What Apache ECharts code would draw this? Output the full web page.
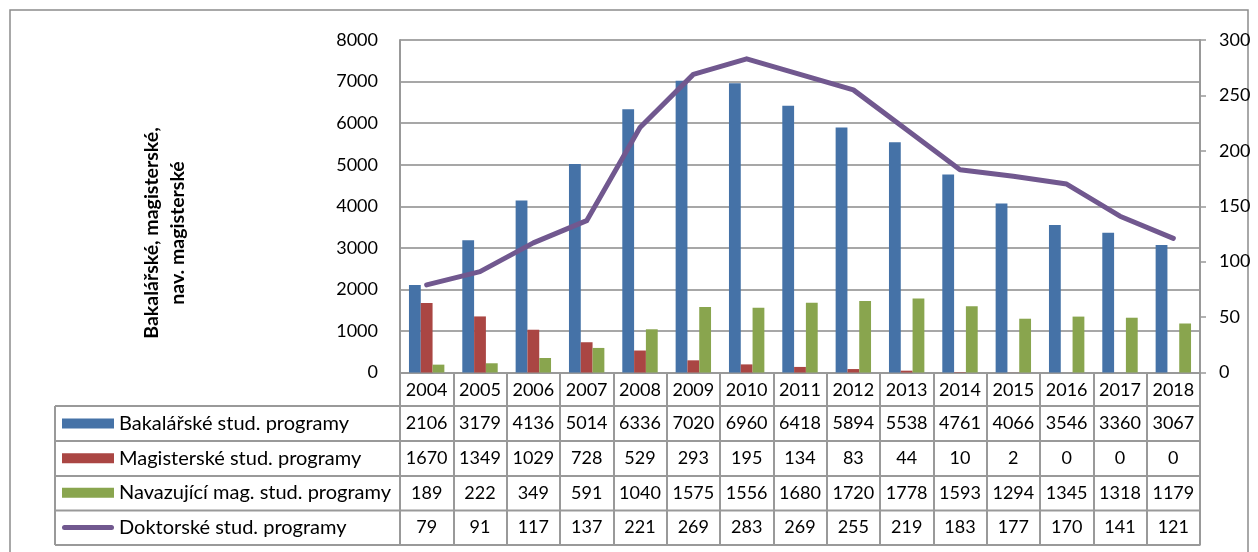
<!DOCTYPE html>
<html>
<head>
<meta charset="utf-8">
<script src="https://cdn.jsdelivr.net/npm/echarts@6/dist/echarts.min.js"></script>
<style>
html,body{margin:0;padding:0;background:#fff;}
#chart{width:1258px;height:552px;}
</style>
</head>
<body>
<div id="chart"></div>
<script>
const years = ['2004','2005','2006','2007','2008','2009','2010','2011','2012','2013','2014','2015','2016','2017','2018'];
const bakalarske = [2106,3179,4136,5014,6336,7020,6960,6418,5894,5538,4761,4066,3546,3360,3067];
const magisterske = [1670,1349,1029,728,529,293,195,134,83,44,10,2,0,0,0];
const navazujici = [189,222,349,591,1040,1575,1556,1680,1720,1778,1593,1294,1345,1318,1179];
const doktorske = [79,91,117,137,221,269,283,269,255,219,183,177,170,141,121];
const seriesNames = ['Bakalářské stud. programy','Magisterské stud. programy','Navazující mag. stud. programy','Doktorské stud. programy'];
const yTitle = 'Bakalářské, magisterské,\nnav. magisterské';

const FONT = 'Lato, "Open Sans", sans-serif';
const GRID = {left:400, right:58, top:40, bottom:179.5};
const axisY = 552 - GRID.bottom;
const rightX = 1258 - GRID.right;
const rowCenters = [423.5, 458.5, 493, 527.5];
const rowLines = [406, 441, 476, 510.5, 545];
const lineCol = '#999999';

const tableRows = [bakalarske, magisterske, navazujici, doktorske];

const xAxes = [{
  type:'category', data:years, gridIndex:0, position:'bottom',
  axisLine:{show:true, lineStyle:{color:lineCol, width:2}},
  axisTick:{show:true, length:173, lineStyle:{color:lineCol, width:2}},
  axisLabel:{show:true, interval:0, margin:17.5, verticalAlign:'middle', fontSize:18, color:'#000', fontFamily:FONT}
}];
tableRows.forEach((arr, k) => {
  xAxes.push({
    type:'category', data:years, gridIndex:0, position:'bottom',
    axisLine:{show:false}, axisTick:{show:false}, splitLine:{show:false},
    axisLabel:{show:true, interval:0, margin:rowCenters[k]-axisY, verticalAlign:'middle', fontSize:18, color:'#000', fontFamily:FONT,
      formatter:(v, i) => String(arr[i])}
  });
});

const graphics = [
  {type:'rect', shape:{x:10, y:10, width:1238, height:560}, style:{fill:'none', stroke:'#8c8c8c', lineWidth:1.5}, silent:true},
  {type:'text', x:165, y:233, rotation:Math.PI/2, style:{text:yTitle, fontSize:19.5, fontWeight:'bold', fontFamily:FONT, fill:'#000', align:'center', verticalAlign:'middle', lineHeight:26}, silent:true},
  {type:'line', shape:{x1:55, y1:rowLines[0], x2:55, y2:rowLines[4]}, style:{stroke:lineCol, lineWidth:2}, silent:true}
];
rowLines.forEach(y => graphics.push({type:'line', shape:{x1:55, y1:y, x2:rightX, y2:y}, style:{stroke:lineCol, lineWidth:2}, silent:true}));

const lineIcon = 'path://M2.5,0 L49.5,0 A2.5,2.5 0 0 1 49.5,5 L2.5,5 A2.5,2.5 0 0 1 2.5,0 Z';

const option = {
  backgroundColor:'#fff',
  animation:false,
  grid:GRID,
  legend:{
    orient:'vertical', left:62, top:rowCenters[0]-10, itemWidth:52, itemHeight:10, itemGap:14.67,
    padding:0, selectedMode:false, symbolKeepAspect:true,
    textStyle:{fontSize:20, color:'#000', fontFamily:FONT, lineHeight:20},
    data:[
      {name:seriesNames[0], icon:'rect'},
      {name:seriesNames[1], icon:'rect'},
      {name:seriesNames[2], icon:'rect'},
      {name:seriesNames[3], icon:lineIcon, itemStyle:{color:'#71588F'}}
    ]
  },
  xAxis:xAxes,
  yAxis:[{
    type:'value', min:0, max:8000, interval:1000,
    axisLine:{show:true, lineStyle:{color:lineCol, width:2}},
    axisTick:{show:false},
    splitLine:{show:true, lineStyle:{color:'#8a8a8a', width:1.5}},
    axisLabel:{margin:22, fontSize:18, color:'#000', fontFamily:FONT, formatter:v => String(v)}
  },{
    type:'value', min:0, max:300, interval:50, position:'right',
    axisLine:{show:true, lineStyle:{color:lineCol, width:2}},
    axisTick:{show:true, length:6, lineStyle:{color:lineCol, width:1.5}},
    splitLine:{show:false},
    axisLabel:{margin:19, fontSize:18, color:'#000', fontFamily:FONT, formatter:v => String(v)}
  }],
  graphic:graphics,
  series:[
    {name:seriesNames[0], type:'bar', data:bakalarske, xAxisIndex:0, yAxisIndex:0, barWidth:11.8, barGap:'0%', itemStyle:{color:'#4572A7'}},
    {name:seriesNames[1], type:'bar', data:magisterske, xAxisIndex:0, yAxisIndex:0, barWidth:11.8, barGap:'0%', itemStyle:{color:'#AA4643'}},
    {name:seriesNames[2], type:'bar', data:navazujici, xAxisIndex:0, yAxisIndex:0, barWidth:11.8, barGap:'0%', itemStyle:{color:'#89A54E'}},
    {name:seriesNames[3], type:'line', data:doktorske, xAxisIndex:0, yAxisIndex:1, symbol:'none', z:5,
      lineStyle:{color:'#71588F', width:5, cap:'round', join:'round'}, itemStyle:{color:'#71588F'}}
  ]
};
const chart = echarts.init(document.getElementById('chart'));
chart.setOption(option);
</script>
</body>
</html>
